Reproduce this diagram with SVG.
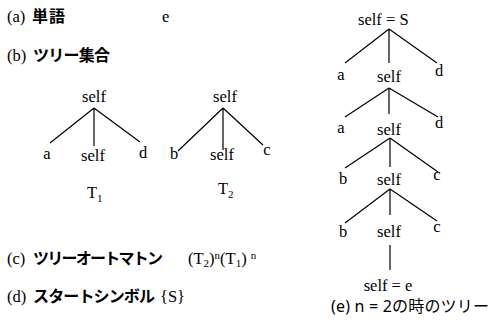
<svg xmlns="http://www.w3.org/2000/svg" width="492" height="323" viewBox="0 0 492 323">
<style>
.s{font-family:"Liberation Serif","Times New Roman",serif;font-size:16.5px;fill:#000}
.m{text-anchor:middle}
.jp{font-family:"Noto Sans CJK JP",sans-serif;font-size:16px;font-weight:bold;fill:#000}
.cap{font-family:"Noto Sans","Noto Sans CJK JP",sans-serif;font-size:16px;fill:#000}
.sub{font-size:11px}
.ln{stroke:#000;stroke-width:1.2;fill:none}
</style>
<rect width="492" height="323" fill="#fff"/>
<g id="labels">
<text class="s" x="7" y="22">(a)</text><text class="jp" x="32" y="22" textLength="33">単語</text>
<text class="s" x="162" y="22">e</text>
<text class="s" x="7" y="61">(b)</text><text class="jp" x="33" y="61" textLength="77">ツリー集合</text>
<text class="s" x="7" y="264">(c)</text><text class="jp" x="33" y="264" textLength="130">ツリーオートマトン</text>
<text class="s" x="188" y="264">(T<tspan class="sub" dy="3">2</tspan><tspan dy="-3">)</tspan><tspan class="sub" dy="-5">n</tspan><tspan dy="5">(T</tspan><tspan class="sub" dy="3">1</tspan><tspan dy="-3">) </tspan><tspan class="sub" dy="-5">n</tspan></text>
<text class="s" x="7" y="302">(d)</text><text class="jp" x="33" y="302" textLength="122">スタートシンボル</text>
<text class="s" x="160" y="302">{S}</text>
<text class="s" x="87" y="198">T<tspan class="sub" dy="4">1</tspan></text>
<text class="s" x="218" y="194">T<tspan class="sub" dy="4">2</tspan></text>
<text class="cap" x="331" y="312" textLength="158">(e) n = 2の時のツリー</text>
</g>
<g id="connectors" class="ln">
<path d="M94 108L50 143M94 108V146M94 108L140 142"/>
<path d="M223 108L178 151M223 108V150M223 108L263 145"/>
<path d="M389 29L345 63M389 29V63M389 29L437 63"/>
<path d="M389 88L345 117M389 88V114M389 88L438 117"/>
<path d="M390 138L345 168M390 138V167M390 138L438 172"/>
<path d="M390 189L345 223M390 189V215M390 189L437 221"/>
<path d="M390 245V270"/>
</g>
<g id="t1-root"><text class="s m" x="94" y="102">self</text></g>
<g id="t1-a"><text class="s m" x="47" y="159">a</text></g>
<g id="t1-self"><text class="s m" x="93" y="161">self</text></g>
<g id="t1-d"><text class="s m" x="143" y="158">d</text></g>
<g id="t2-root"><text class="s m" x="225" y="102">self</text></g>
<g id="t2-b"><text class="s m" x="174" y="159">b</text></g>
<g id="t2-self"><text class="s m" x="222" y="160">self</text></g>
<g id="t2-c"><text class="s m" x="267" y="155">c</text></g>
<g id="r0"><text class="s" x="358" y="25">self = S</text></g>
<g id="r1-a"><text class="s m" x="341" y="80">a</text></g>
<g id="r1-self"><text class="s m" x="389" y="82">self</text></g>
<g id="r1-d"><text class="s m" x="439" y="76">d</text></g>
<g id="r2-a"><text class="s m" x="341" y="133">a</text></g>
<g id="r2-self"><text class="s m" x="389" y="135">self</text></g>
<g id="r2-d"><text class="s m" x="439" y="128">d</text></g>
<g id="r3-b"><text class="s m" x="343" y="184">b</text></g>
<g id="r3-self"><text class="s m" x="389" y="185">self</text></g>
<g id="r3-c"><text class="s m" x="437" y="180">c</text></g>
<g id="r4-b"><text class="s m" x="343" y="237">b</text></g>
<g id="r4-self"><text class="s m" x="389" y="237">self</text></g>
<g id="r4-c"><text class="s m" x="437" y="232">c</text></g>
<g id="r5"><text class="s m" x="388" y="291">self = e</text></g>
</svg>
